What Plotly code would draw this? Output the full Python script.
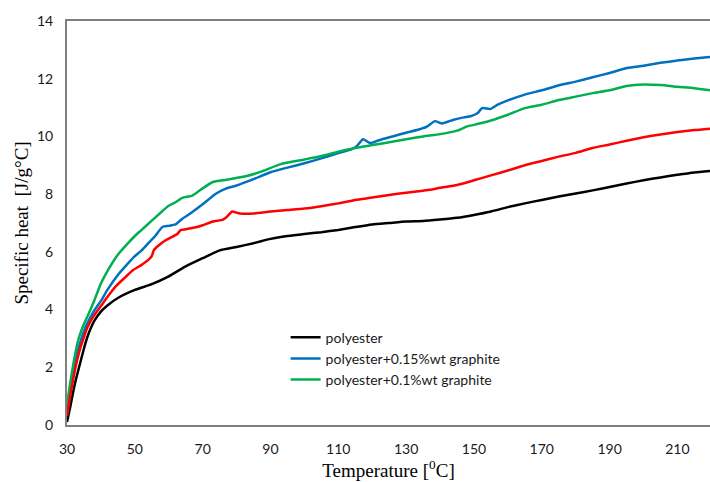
import plotly.graph_objects as go

# Specific heat curves (J/g°C) versus temperature (°C)
temp_polyester = [30, 31, 32, 33, 34, 35, 36, 37, 38, 40, 42, 45, 50, 55, 60, 65, 70, 75, 80, 85,
                  90, 95, 100, 105, 110, 115, 120, 125, 130, 135, 140, 145, 150, 155, 160, 165,
                  170, 175, 180, 185, 190, 195, 200, 205, 210, 215, 219.6]
cp_polyester = [0.1, 0.65, 1.25, 1.75, 2.2, 2.65, 3.05, 3.35, 3.6, 3.93, 4.15, 4.4, 4.68, 4.88, 5.15,
                5.5, 5.78, 6.05, 6.17, 6.3, 6.45, 6.55, 6.62, 6.68, 6.76, 6.86, 6.95, 7.0, 7.05, 7.07,
                7.12, 7.18, 7.28, 7.4, 7.55, 7.68, 7.8, 7.92, 8.02, 8.13, 8.25, 8.37, 8.48, 8.58,
                8.67, 8.75, 8.8]

temp_red = [30, 31, 32, 33, 34, 35, 36, 38, 40, 42, 44.5, 47, 49.5, 52, 54, 55, 55.6, 57, 59.2, 61,
            62.5, 63.5, 65, 68, 70, 73, 76, 77, 78.7, 80, 81, 85, 90, 95, 100, 105, 110, 115, 120,
            125, 130, 135, 137, 140, 145, 150, 155, 160, 165, 170, 175, 180, 185, 190, 195, 200,
            205, 210, 215, 219.6]
cp_red = [0.3, 1.05, 1.7, 2.25, 2.7, 3.05, 3.38, 3.8, 4.12, 4.45, 4.82, 5.1, 5.37, 5.55, 5.72, 5.85,
          6.06, 6.22, 6.41, 6.52, 6.62, 6.75, 6.78, 6.85, 6.92, 7.05, 7.12, 7.2, 7.4, 7.36, 7.33,
          7.33, 7.4, 7.45, 7.5, 7.58, 7.68, 7.8, 7.88, 7.97, 8.05, 8.12, 8.15, 8.22, 8.32, 8.48,
          8.65, 8.82, 9.0, 9.15, 9.3, 9.43, 9.6, 9.72, 9.85, 9.97, 10.07, 10.15, 10.22, 10.27]

temp_015 = [30, 31, 32, 33, 34, 35, 36, 38, 40, 42, 45, 48, 50, 52, 54, 56, 58.2, 60, 62, 64, 66,
            70, 74, 77, 80, 85, 90, 95, 100, 105, 110, 114, 115.5, 117.3, 119.4, 122, 126, 130,
            134, 136, 138.5, 140.6, 144, 147, 149, 151, 152.4, 154.8, 157, 160, 165, 170, 175.4,
            180, 185, 190, 195.2, 200, 205, 210, 215, 219.6]
cp_015 = [0.5, 1.3, 1.95, 2.5, 2.9, 3.25, 3.52, 3.96, 4.3, 4.7, 5.2, 5.6, 5.85, 6.05, 6.3, 6.55,
          6.87, 6.9, 6.95, 7.15, 7.3, 7.65, 8.02, 8.2, 8.3, 8.52, 8.76, 8.92, 9.07, 9.24, 9.42,
          9.56, 9.67, 9.9, 9.77, 9.87, 10.0, 10.13, 10.25, 10.33, 10.53, 10.45, 10.58, 10.66,
          10.7, 10.8, 10.98, 10.95, 11.1, 11.25, 11.45, 11.6, 11.78, 11.9, 12.05, 12.2, 12.37,
          12.45, 12.55, 12.63, 12.7, 12.75]

temp_01 = [30, 31, 32, 33, 34, 35, 36, 38, 40, 42, 45, 48, 50, 52, 55, 58, 60, 62, 64, 67, 70, 73,
           77, 82, 87, 93, 100, 105, 110, 115, 120, 125, 130, 135, 140, 145, 148, 150, 155, 160,
           165, 170, 175, 180, 185, 190, 195, 200, 205, 210, 215, 219.6]
cp_01 = [0.7, 1.5, 2.2, 2.8, 3.2, 3.5, 3.75, 4.3, 4.9, 5.35, 5.9, 6.3, 6.55, 6.76, 7.08, 7.4, 7.6,
         7.72, 7.87, 7.95, 8.2, 8.42, 8.5, 8.6, 8.77, 9.04, 9.2, 9.32, 9.47, 9.6, 9.7, 9.8, 9.9,
         10.0, 10.08, 10.2, 10.35, 10.4, 10.55, 10.75, 10.98, 11.1, 11.26, 11.38, 11.5, 11.6,
         11.75, 11.8, 11.78, 11.72, 11.67, 11.6]

x_ticks = [30, 50, 70, 90, 110, 130, 150, 170, 190, 210]
y_ticks = [0, 2, 4, 6, 8, 10, 12, 14]

series = [
    ("polyester", temp_polyester, cp_polyester, "#000000", True),
    ("polyester+0.15%wt graphite", temp_015, cp_015, "#0070C0", True),
    ("polyester+0.1%wt graphite", temp_01, cp_01, "#00B050", True),
    ("polyester (red)", temp_red, cp_red, "#FF0000", False),
]

fig = go.Figure()
for name, xs, ys, color, in_legend in series:
    fig.add_trace(go.Scatter(
        x=xs, y=ys, mode="lines", name=name, showlegend=in_legend,
        line=dict(color=color, width=2.5, shape="spline", smoothing=0.5),
    ))

tick_font = dict(family="Lato, 'Open Sans', sans-serif", size=14, color="#1a1a1a")
title_font = dict(family="'Liberation Serif', 'Times New Roman', serif", size=19, color="#000000")

fig.update_layout(
    width=710, height=482,
    margin=dict(l=67, r=0, t=21, b=57),
    paper_bgcolor="white", plot_bgcolor="white",
    showlegend=True,
    legend=dict(
        x=0.34, y=0.256, xanchor="left", yanchor="top",
        bgcolor="rgba(0,0,0,0)", borderwidth=0,
        font=dict(family="Lato, 'Open Sans', sans-serif", size=14, color="#1a1a1a"),
        tracegroupgap=0, itemwidth=30,
    ),
    xaxis=dict(
        range=[30, 219.6], tickvals=x_ticks, ticktext=[str(v) for v in x_ticks],
        showgrid=False, zeroline=False, ticks="",
        showline=True, linecolor="#808080", linewidth=2, mirror=True,
        tickfont=tick_font, ticklabelstandoff=10,
        title=dict(text="Temperature [<sup>0</sup>C]", font=title_font, standoff=4),
    ),
    yaxis=dict(
        range=[0, 14], tickvals=y_ticks, ticktext=[str(v) for v in y_ticks],
        showgrid=False, zeroline=False, ticks="",
        showline=True, linecolor="#808080", linewidth=2, mirror=False,
        tickfont=tick_font, ticklabelstandoff=9,
        title=dict(text="Specific heat  [J/g°C]", font=title_font, standoff=3),
    ),
)

fig.write_html("out.html")
